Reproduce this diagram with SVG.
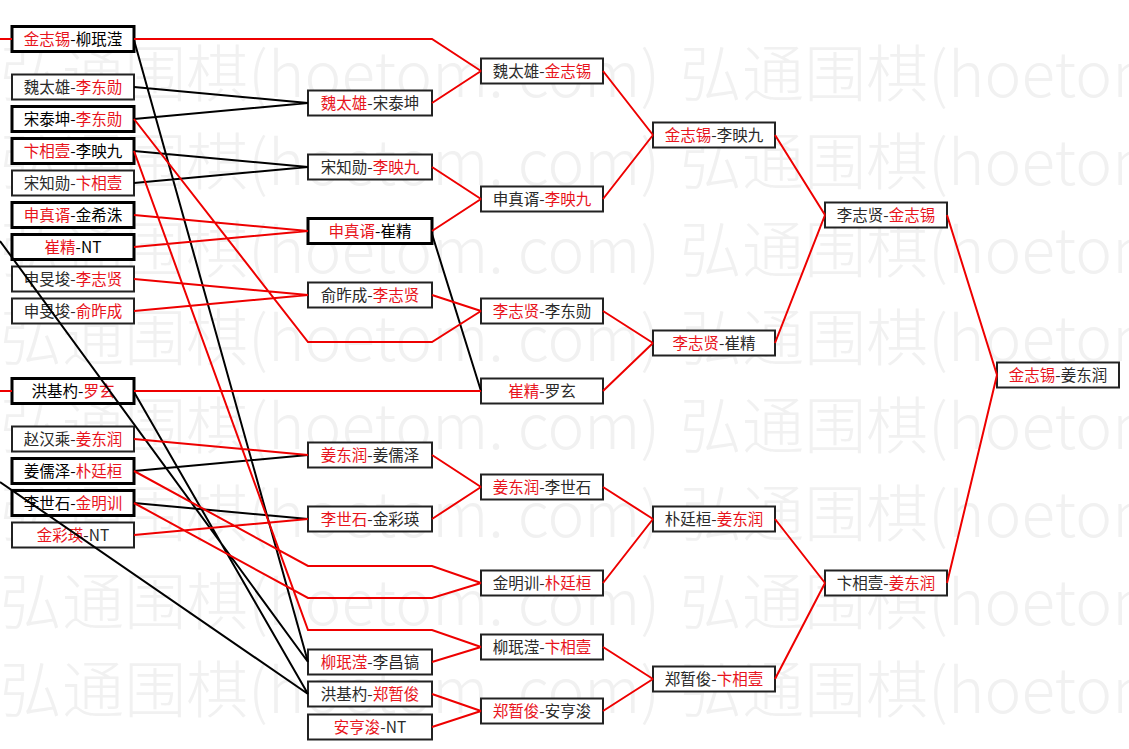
<svg xmlns="http://www.w3.org/2000/svg" width="1129" height="749" viewBox="0 0 1129 749">
<style>
.wm{font-family:"Noto Sans CJK SC","Liberation Serif",serif;font-size:62px;font-weight:300;fill:#f1f1f1}
.box{fill:#fff;stroke:#222;stroke-width:2}
.thick{stroke:#000;stroke-width:3}
.t{font-family:"Noto Sans CJK SC","Liberation Sans",sans-serif;font-size:15.5px;fill:#2a2a2a;text-anchor:middle}
.b{fill:#000}
.r{fill:#e8141c}
.k{fill:none;stroke:#000;stroke-width:2}
.rd{fill:none;stroke:#ee0000;stroke-width:2}
</style>
<rect width="1129" height="749" fill="#fff"/>
<g id="watermark">
<text class="wm" x="0" y="97" textLength="660" lengthAdjust="spacing">弘通围棋(hoetom. com)</text><text class="wm" x="680" y="97" textLength="660" lengthAdjust="spacing">弘通围棋(hoetom. com)</text>
<text class="wm" x="0" y="185" textLength="660" lengthAdjust="spacing">弘通围棋(hoetom. com)</text><text class="wm" x="680" y="185" textLength="660" lengthAdjust="spacing">弘通围棋(hoetom. com)</text>
<text class="wm" x="0" y="273" textLength="660" lengthAdjust="spacing">弘通围棋(hoetom. com)</text><text class="wm" x="680" y="273" textLength="660" lengthAdjust="spacing">弘通围棋(hoetom. com)</text>
<text class="wm" x="0" y="361" textLength="660" lengthAdjust="spacing">弘通围棋(hoetom. com)</text><text class="wm" x="680" y="361" textLength="660" lengthAdjust="spacing">弘通围棋(hoetom. com)</text>
<text class="wm" x="0" y="449" textLength="660" lengthAdjust="spacing">弘通围棋(hoetom. com)</text><text class="wm" x="680" y="449" textLength="660" lengthAdjust="spacing">弘通围棋(hoetom. com)</text>
<text class="wm" x="0" y="537" textLength="660" lengthAdjust="spacing">弘通围棋(hoetom. com)</text><text class="wm" x="680" y="537" textLength="660" lengthAdjust="spacing">弘通围棋(hoetom. com)</text>
<text class="wm" x="0" y="625" textLength="660" lengthAdjust="spacing">弘通围棋(hoetom. com)</text><text class="wm" x="680" y="625" textLength="660" lengthAdjust="spacing">弘通围棋(hoetom. com)</text>
<text class="wm" x="0" y="713" textLength="660" lengthAdjust="spacing">弘通围棋(hoetom. com)</text><text class="wm" x="680" y="713" textLength="660" lengthAdjust="spacing">弘通围棋(hoetom. com)</text>
</g>
<g id="nodes">
<g id="n1-1"><rect class="box thick" x="12" y="26.5" width="122" height="25"/><text class="t b" x="73" y="44.5"><tspan class="r">金志锡</tspan>-柳珉滢</text></g>
<g id="n1-2"><rect class="box" x="12" y="74.5" width="122" height="25"/><text class="t" x="73" y="92.5">魏太雄-<tspan class="r">李东勋</tspan></text></g>
<g id="n1-3"><rect class="box thick" x="12" y="106.5" width="122" height="25"/><text class="t b" x="73" y="124.5">宋泰坤-<tspan class="r">李东勋</tspan></text></g>
<g id="n1-4"><rect class="box thick" x="12" y="138.5" width="122" height="25"/><text class="t b" x="73" y="156.5"><tspan class="r">卞相壹</tspan>-李映九</text></g>
<g id="n1-5"><rect class="box" x="12" y="170.5" width="122" height="25"/><text class="t" x="73" y="188.5">宋知勋-<tspan class="r">卞相壹</tspan></text></g>
<g id="n1-6"><rect class="box thick" x="12" y="202.5" width="122" height="25"/><text class="t b" x="73" y="220.5"><tspan class="r">申真谞</tspan>-金希洙</text></g>
<g id="n1-7"><rect class="box thick" x="12" y="234.5" width="122" height="25"/><text class="t b" x="73" y="252.5"><tspan class="r">崔精</tspan>-NT</text></g>
<g id="n1-8"><rect class="box" x="12" y="266.5" width="122" height="25"/><text class="t" x="73" y="284.5">申旻埈-<tspan class="r">李志贤</tspan></text></g>
<g id="n1-9"><rect class="box" x="12" y="298.5" width="122" height="25"/><text class="t" x="73" y="316.5">申旻埈-<tspan class="r">俞昨成</tspan></text></g>
<g id="n1-10"><rect class="box thick" x="12" y="378.5" width="122" height="25"/><text class="t b" x="73" y="396.5">洪基杓-<tspan class="r">罗玄</tspan></text></g>
<g id="n1-11"><rect class="box" x="12" y="426.5" width="122" height="25"/><text class="t" x="73" y="444.5">赵汉乘-<tspan class="r">姜东润</tspan></text></g>
<g id="n1-12"><rect class="box thick" x="12" y="458.5" width="122" height="25"/><text class="t b" x="73" y="476.5">姜儒泽-<tspan class="r">朴廷桓</tspan></text></g>
<g id="n1-13"><rect class="box thick" x="12" y="490.5" width="122" height="25"/><text class="t b" x="73" y="508.5">李世石-<tspan class="r">金明训</tspan></text></g>
<g id="n1-14"><rect class="box" x="12" y="522.5" width="122" height="25"/><text class="t" x="73" y="540.5"><tspan class="r">金彩瑛</tspan>-NT</text></g>

<g id="n2-1"><rect class="box" x="308" y="90.5" width="124" height="25"/><text class="t" x="370" y="108.5"><tspan class="r">魏太雄</tspan>-宋泰坤</text></g>
<g id="n2-2"><rect class="box" x="308" y="154.5" width="124" height="25"/><text class="t" x="370" y="172.5">宋知勋-<tspan class="r">李映九</tspan></text></g>
<g id="n2-3"><rect class="box thick" x="308" y="218.5" width="124" height="25"/><text class="t b" x="370" y="236.5"><tspan class="r">申真谞</tspan>-崔精</text></g>
<g id="n2-4"><rect class="box" x="308" y="282.5" width="124" height="25"/><text class="t" x="370" y="300.5">俞昨成-<tspan class="r">李志贤</tspan></text></g>
<g id="n2-5"><rect class="box" x="308" y="442.5" width="124" height="25"/><text class="t" x="370" y="460.5"><tspan class="r">姜东润</tspan>-姜儒泽</text></g>
<g id="n2-6"><rect class="box" x="308" y="506.5" width="124" height="25"/><text class="t" x="370" y="524.5"><tspan class="r">李世石</tspan>-金彩瑛</text></g>
<g id="n2-7"><rect class="box" x="308" y="649.5" width="124" height="25"/><text class="t" x="370" y="667.5"><tspan class="r">柳珉滢</tspan>-李昌镐</text></g>
<g id="n2-8"><rect class="box" x="308" y="681.5" width="124" height="25"/><text class="t" x="370" y="699.5">洪基杓-<tspan class="r">郑暂俊</tspan></text></g>
<g id="n2-9"><rect class="box" x="308" y="714.5" width="124" height="25"/><text class="t" x="370" y="732.5"><tspan class="r">安亨浚</tspan>-NT</text></g>

<g id="n3-1"><rect class="box" x="481" y="58.5" width="122" height="25"/><text class="t" x="542" y="76.5">魏太雄-<tspan class="r">金志锡</tspan></text></g>
<g id="n3-2"><rect class="box" x="481" y="186.5" width="122" height="25"/><text class="t" x="542" y="204.5">申真谞-<tspan class="r">李映九</tspan></text></g>
<g id="n3-3"><rect class="box" x="481" y="298.5" width="122" height="25"/><text class="t" x="542" y="316.5"><tspan class="r">李志贤</tspan>-李东勋</text></g>
<g id="n3-4"><rect class="box" x="481" y="378.5" width="122" height="25"/><text class="t" x="542" y="396.5"><tspan class="r">崔精</tspan>-罗玄</text></g>
<g id="n3-5"><rect class="box" x="481" y="474.5" width="122" height="25"/><text class="t" x="542" y="492.5"><tspan class="r">姜东润</tspan>-李世石</text></g>
<g id="n3-6"><rect class="box" x="481" y="570.5" width="122" height="25"/><text class="t" x="542" y="588.5">金明训-<tspan class="r">朴廷桓</tspan></text></g>
<g id="n3-7"><rect class="box" x="481" y="634.5" width="122" height="25"/><text class="t" x="542" y="652.5">柳珉滢-<tspan class="r">卞相壹</tspan></text></g>
<g id="n3-8"><rect class="box" x="481" y="698.5" width="122" height="25"/><text class="t" x="542" y="716.5"><tspan class="r">郑暂俊</tspan>-安亨浚</text></g>

<g id="n4-1"><rect class="box" x="653" y="122.5" width="122" height="25"/><text class="t" x="714" y="140.5"><tspan class="r">金志锡</tspan>-李映九</text></g>
<g id="n4-2"><rect class="box" x="653" y="330.5" width="122" height="25"/><text class="t" x="714" y="348.5"><tspan class="r">李志贤</tspan>-崔精</text></g>
<g id="n4-3"><rect class="box" x="653" y="506.5" width="122" height="25"/><text class="t" x="714" y="524.5">朴廷桓-<tspan class="r">姜东润</tspan></text></g>
<g id="n4-4"><rect class="box" x="653" y="666.5" width="122" height="25"/><text class="t" x="714" y="684.5">郑暂俊-<tspan class="r">卞相壹</tspan></text></g>

<g id="n5-1"><rect class="box" x="825" y="202.5" width="122" height="25"/><text class="t" x="886" y="220.5">李志贤-<tspan class="r">金志锡</tspan></text></g>
<g id="n5-2"><rect class="box" x="825" y="570.5" width="122" height="25"/><text class="t" x="886" y="588.5">卞相壹-<tspan class="r">姜东润</tspan></text></g>

<g id="n6-1"><rect class="box" x="997" y="362.5" width="122" height="25"/><text class="t" x="1058" y="380.5"><tspan class="r">金志锡</tspan>-姜东润</text></g>
</g>
<g id="connectors">
<path class="k" d="M134,87L308,103M134,119L308,103M134,151L308,167M134,183L308,167M134,40L308,662M0,241L308,662M134,392L308,694M0,482L308,694M134,471L308,455M134,503L308,519M432,234L481,391"/>
<path class="rd" d="M0,39H12M0,391H12M134,39H432L481,71M432,103L481,71M432,167L481,199M432,231L481,199M134,215L308,231M134,247L308,231M134,279L308,295M134,311L308,295M432,295L481,311M134,119L308,342H432L481,311M134,391H481M134,439L308,455M134,535L308,519M432,455L481,487M432,519L481,487M134,471L308,566H432L481,583M134,503L308,598H432L481,583M134,151L308,630H432L481,647M432,662L481,647M432,694L481,711M432,727L481,711"/>
<path class="rd" d="M603,71L653,135M603,199L653,135M603,311L653,343M603,391L653,343M603,487L653,519M603,583L653,519M603,647L653,679M603,711L653,679M775,135L825,215M775,343L825,215M775,519L825,583M775,679L825,583M947,215L997,375M947,583L997,375"/>
</g>
</svg>
